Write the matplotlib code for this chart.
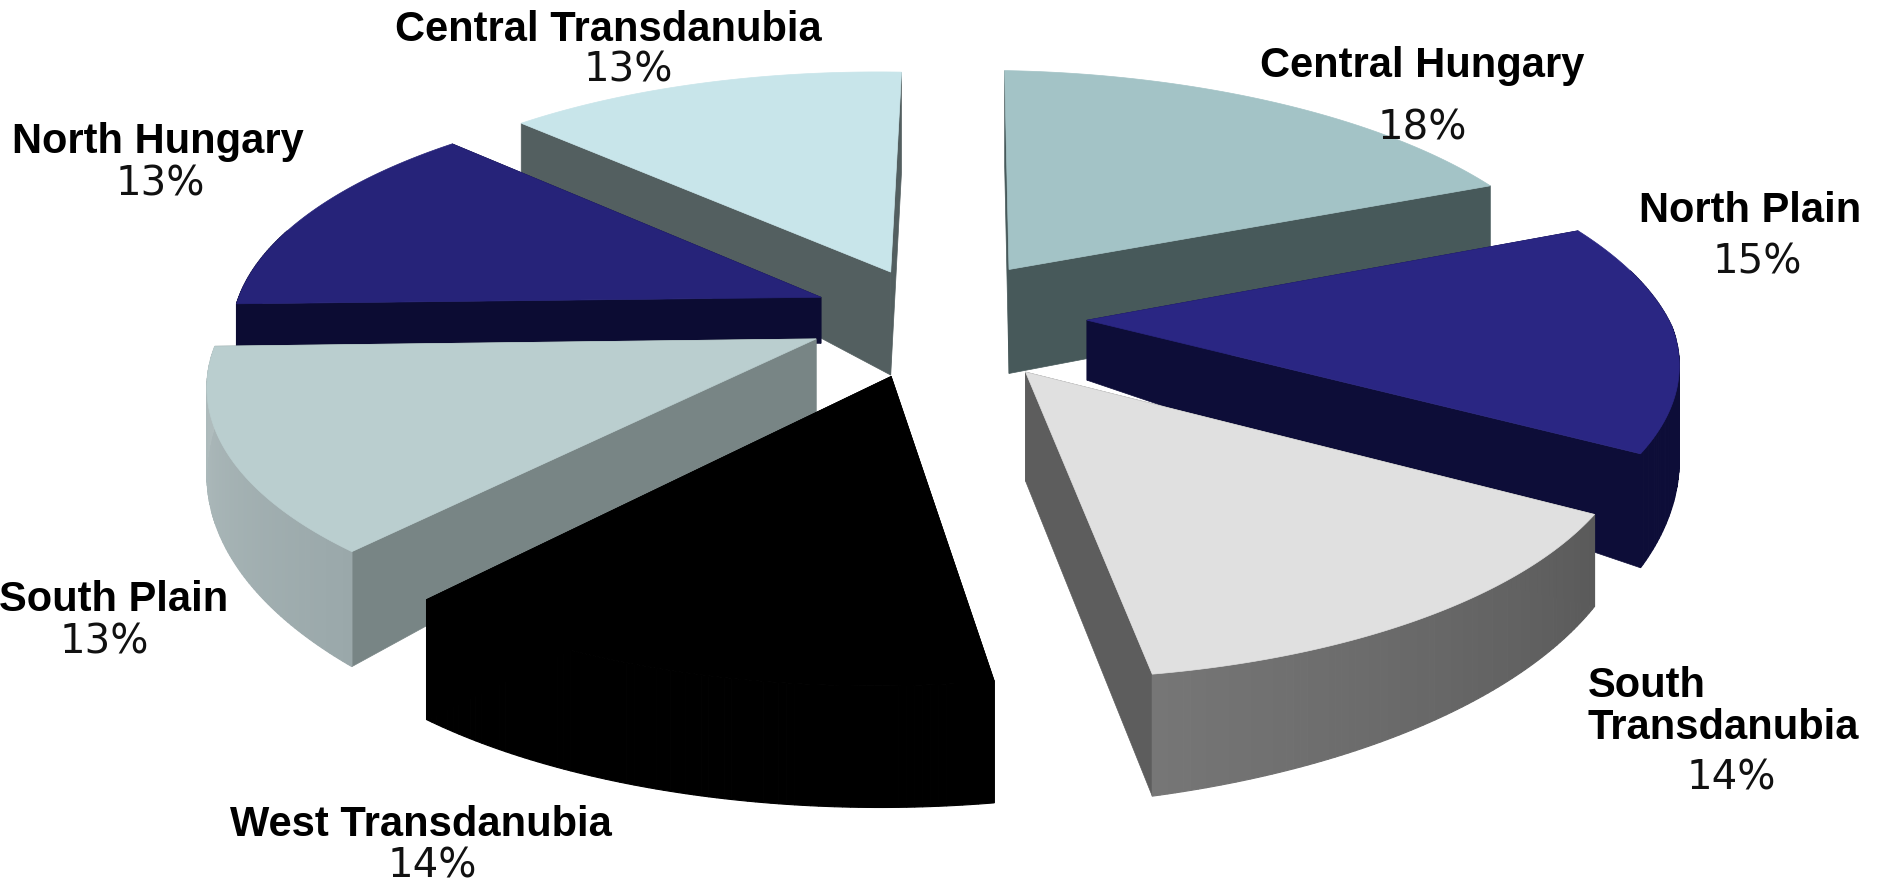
#!/usr/bin/env python
import numpy as np
import matplotlib
matplotlib.use("Agg")
import matplotlib.pyplot as plt

# Data, clockwise from 12 o'clock
regions = ["Central Hungary", "North Plain", "South\nTransdanubia", "West Transdanubia",
           "South Plain", "North Hungary", "Central Transdanubia"]
shares = [18, 15, 14, 14, 13, 13, 13]

# Colours
top_col = ["#A3C3C6", "#2A2683", "#E0E0E0", "#000000", "#BACECF", "#262379", "#C8E5EA"]
wall_col = ["#47595A", "#0D0D38", "#5D5D5D", "#000000", "#788585", "#0C0C33", "#535F60"]
rim_col_a = ["#47595A", "#0D0D38", "#5A5A5A", "#000000", "#9AA8AA", "#0C0C33", "#535F60"]
rim_col_b = ["#47595A", "#0D0D38", "#767676", "#000000", "#B0BDBE", "#0C0C33", "#535F60"]

# Wall heights (pixels) at the centre and at both ends of the rim
depth_apex = [104, 60, 109, 118, 74, 46, 103]
depth_start = [96, 60, 92, 122, 115, 46, 56]
depth_end = [96, 114, 122, 120, 80, 46, 100]
explode = [0.24, 0.26, 0.27, 0.25, 0.22, 0.21, 0.20]

# Projection of the flat pie
cx, cy = 935, 316
R, k, p = 585, 0.414, 0.151
skew_front, skew_back, tilt = 25, 5, 8.5


def project(x, y):
    x, y = np.asarray(x, float), np.asarray(y, float)
    s = 1.0 / (1.0 + p * y)
    px = cx + R * x * s + np.where(y < 0, skew_front, skew_back) * y
    py = cy - R * k * y * s + tilt * x
    return px, py


fig = plt.figure(figsize=(18.77, 8.84), dpi=100)
ax = fig.add_axes([0, 0, 1, 1])
ax.set_xlim(0, 1877)
ax.set_ylim(884, 0)
ax.axis("off")

angles = 2 * np.pi * np.cumsum([0] + shares) / sum(shares)

# back slices first, front ones paint over them
for i in [6, 0, 5, 1, 4, 2, 3]:
    a0, a1 = angles[i], angles[i + 1]
    mid = (a0 + a1) / 2
    ox = explode[i] * np.sin(mid)
    oy = explode[i] * np.cos(mid)
    t = np.linspace(a0, a1, 80)
    rx, ry = project(ox + np.sin(t), oy + np.cos(t))
    ax_, ay_ = project(ox, oy)
    drop = np.linspace(depth_start[i], depth_end[i], len(t))

    # straight walls
    ax.fill([ax_, rx[0], rx[0], ax_], [ay_, ry[0], ry[0] + drop[0], ay_ + depth_apex[i]],
            color=wall_col[i], lw=0.5)
    ax.fill([ax_, rx[-1], rx[-1], ax_], [ay_, ry[-1], ry[-1] + drop[-1], ay_ + depth_apex[i]],
            color=wall_col[i], lw=0.5)

    # outer wall, only where it faces the viewer
    ca = np.array(matplotlib.colors.to_rgb(rim_col_a[i]))
    cb = np.array(matplotlib.colors.to_rgb(rim_col_b[i]))
    for j in range(len(t) - 1):
        if np.cos(t[j]) > 0.25:
            continue
        f = j / (len(t) - 2)
        c = ca * (1 - f) + cb * f
        ax.fill([rx[j], rx[j + 1], rx[j + 1], rx[j]],
                [ry[j], ry[j + 1], ry[j + 1] + drop[j + 1], ry[j] + drop[j]],
                color=c, lw=0.8)

    # top face
    ax.fill(np.r_[ax_, rx], np.r_[ay_, ry], color=top_col[i], lw=0.5)

# Labels
name_xy = [(1422, 66), (1750, 211), (1588, 707), (421, 825), (114, 600), (158, 142), (608, 30)]
pct_xy = [(1422, 128), (1757, 262), (1731, 778), (432, 866), (104, 642), (160, 185), (628, 70)]
for i, name in enumerate(regions):
    ha = "left" if "\n" in name else "center"
    ax.text(name_xy[i][0], name_xy[i][1], name, ha=ha, va="center", family="Liberation Sans",
            weight="bold", fontsize=30, color="black", linespacing=1.05)
    ax.text(pct_xy[i][0], pct_xy[i][1], "%d%%" % shares[i], ha="center", va="center",
            family="DejaVu Sans", fontsize=29, color="#111111")

fig.savefig("out.png", dpi=100, facecolor="white")
